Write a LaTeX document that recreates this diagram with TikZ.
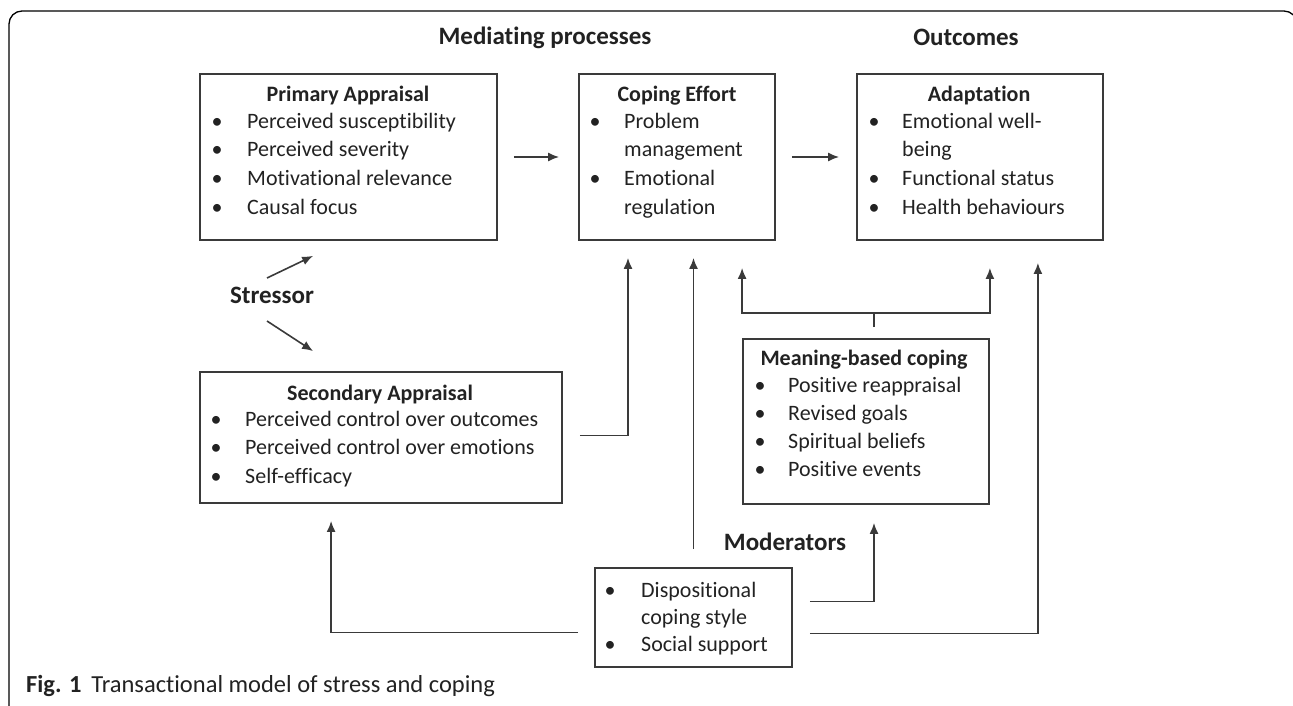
\documentclass[tikz,border=0pt]{standalone}
\usepackage{fontspec}
\setmainfont{Carlito}[RawFeature={-liga;-calt;-clig}]
\usepackage{tikz}
\usetikzlibrary{arrows.meta}
\usetikzlibrary{calc}
\tikzset{>={Latex[length=11pt,width=9pt]}}

\definecolor{ink}{HTML}{222222}
\definecolor{wire}{HTML}{3A3A3A}

\tikzset{
    box/.style={draw=wire, line width=1.8pt, inner sep=0pt},
    txt/.style={text=ink, font=\fontsize{22}{26}\selectfont, text height=14pt, text depth=0pt, inner sep=0pt, anchor=west},
    ttl/.style={txt, font=\fontsize{22}{26}\selectfont\bfseries, anchor=center},
    hdr/.style={text=ink, font=\fontsize{25}{30}\selectfont\bfseries, text height=16pt, text depth=0pt, inner sep=0pt},
    dot/.style={txt, anchor=center},
    arr/.style={->, draw=wire, line width=1.6pt},
    link/.style={draw=wire, line width=1.6pt}
}

\begin{document}
\begin{tikzpicture}[x=1pt, y=-1pt]
    \useasboundingbox (0,0) rectangle (1293,706);

    % Frame
    \draw[black, line width=1.3pt, rounded corners=13pt] (9,730) -- (9,11) -- (1297,11) -- (1297,730);

    % Headings
    \node[hdr] (mediating) at (545,37) {Mediating processes};
    \node[hdr] (outcomes) at (966,38) {Outcomes};
    \node[hdr] (stressor) at (272,295) {Stressor};
    \node[hdr] (moderators) at (785,542) {Moderators};

    % Boxes
    \node[box, minimum width=297pt, minimum height=166pt] (pa) at (348.5,157) {};
    \node[box, minimum width=196pt, minimum height=166pt] (ce) at (677,157) {};
    \node[box, minimum width=246pt, minimum height=166pt] (ad) at (980,157) {};
    \node[box, minimum width=362pt, minimum height=131pt] (sa) at (381,437.5) {};
    \node[box, minimum width=246pt, minimum height=165pt] (mbc) at (866,421.5) {};
    \node[box, minimum width=197pt, minimum height=99pt] (mod) at (693.5,617.5) {};

    % Primary Appraisal
    \node[ttl] (pa-title) at (348,95) {Primary Appraisal};
    \foreach \y/\t in {122/Perceived susceptibility, 150/Perceived severity, 178/Motivational relevance, 207/Causal focus} {
        \node[dot] (pa-b\y) at (217,\y) {\textbullet};
        \node[txt] (pa-t\y) at (247,\y) {\t};
    }

    % Coping Effort
    \node[ttl] (ce-title) at (677,95) {Coping Effort};
    \foreach \y in {122,178}
        \node[dot] (ce-b\y) at (595,\y) {\textbullet};
    \foreach \y/\t in {122/Problem, 150/management, 178/Emotional, 207/regulation}
        \node[txt] (ce-t\y) at (624,\y) {\t};

    % Adaptation
    \node[ttl] (ad-title) at (979,95) {Adaptation};
    \foreach \y in {122,178,207}
        \node[dot] (ad-b\y) at (874,\y) {\textbullet};
    \foreach \y/\t in {122/Emotional well-, 150/being, 178/Functional status, 207/Health behaviours}
        \node[txt] (ad-t\y) at (902,\y) {\t};

    % Secondary Appraisal
    \node[ttl] (sa-title) at (380,393) {Secondary Appraisal};
    \foreach \y/\t in {419/Perceived control over outcomes, 447/Perceived control over emotions, 476/Self-efficacy} {
        \node[dot] (sa-b\y) at (216,\y) {\textbullet};
        \node[txt] (sa-t\y) at (245,\y) {\t};
    }

    % Meaning-based coping
    \node[ttl] (mbc-title) at (864,358) {Meaning-based coping};
    \foreach \y/\t in {385/Positive reappraisal, 413/Revised goals, 441/Spiritual beliefs, 469/Positive events} {
        \node[dot] (mbc-b\y) at (760,\y) {\textbullet};
        \node[txt] (mbc-t\y) at (788,\y) {\t};
    }

    % Moderators
    \foreach \y in {590,644}
        \node[dot] (mod-b\y) at (610,\y) {\textbullet};
    \foreach \y/\t in {590/Dispositional, 617/coping style, 644/Social support}
        \node[txt] (mod-t\y) at (641,\y) {\t};

    % Stressor arrows
    \coordinate (su) at (267,278);
    \coordinate (sd) at (267,321);
    \draw[arr] (su) -- ($(pa.south west)+(114,15)$);
    \draw[arr] (sd) -- ($(sa.north west)+(114,-20)$);

    % Main flow
    \draw[arr, shorten <=16pt, shorten >=19pt] (pa) -- (ce);
    \draw[arr, shorten <=16pt, shorten >=17pt] (ce) -- (ad);
    \draw[arr] ($(sa.east)+(17,-2)$) -| ($(ce.south)+(-49,17)$);

    % Meaning-based coping branch
    \coordinate (br) at (874,313);
    \draw[link] ($(mbc.north)+(8,-11)$) -- (br);
    \draw[arr] (br) -| ($(mbc.north west |- ce.south)+(0,27)$);
    \draw[arr] (br) -| ($(mbc.north east |- ad.south)+(0,27)$);

    % Moderator arrows
    \draw[arr] ($(mod.north)+(0,-18)$) -- ($(mod.north |- ce.south)+(0,17)$);
    \draw[arr] ($(mod.east)+(17,-16)$) -| ($(mbc.south)+(8,18)$);
    \draw[arr] ($(mod.east)+(17,16)$) -| ($(ad.south east)+(-66,22)$);
    \draw[arr] ($(mod.west)+(-16,15)$) -| ($(sa.south west)+(132,17)$);

    % Caption
    \node[text=ink, font=\fontsize{24.5}{29}\selectfont, inner sep=0pt, anchor=west] (caption) at (26,686) {\textbf{Fig. 1}\hspace{10pt}Transactional model of stress and coping};
\end{tikzpicture}
\end{document}
